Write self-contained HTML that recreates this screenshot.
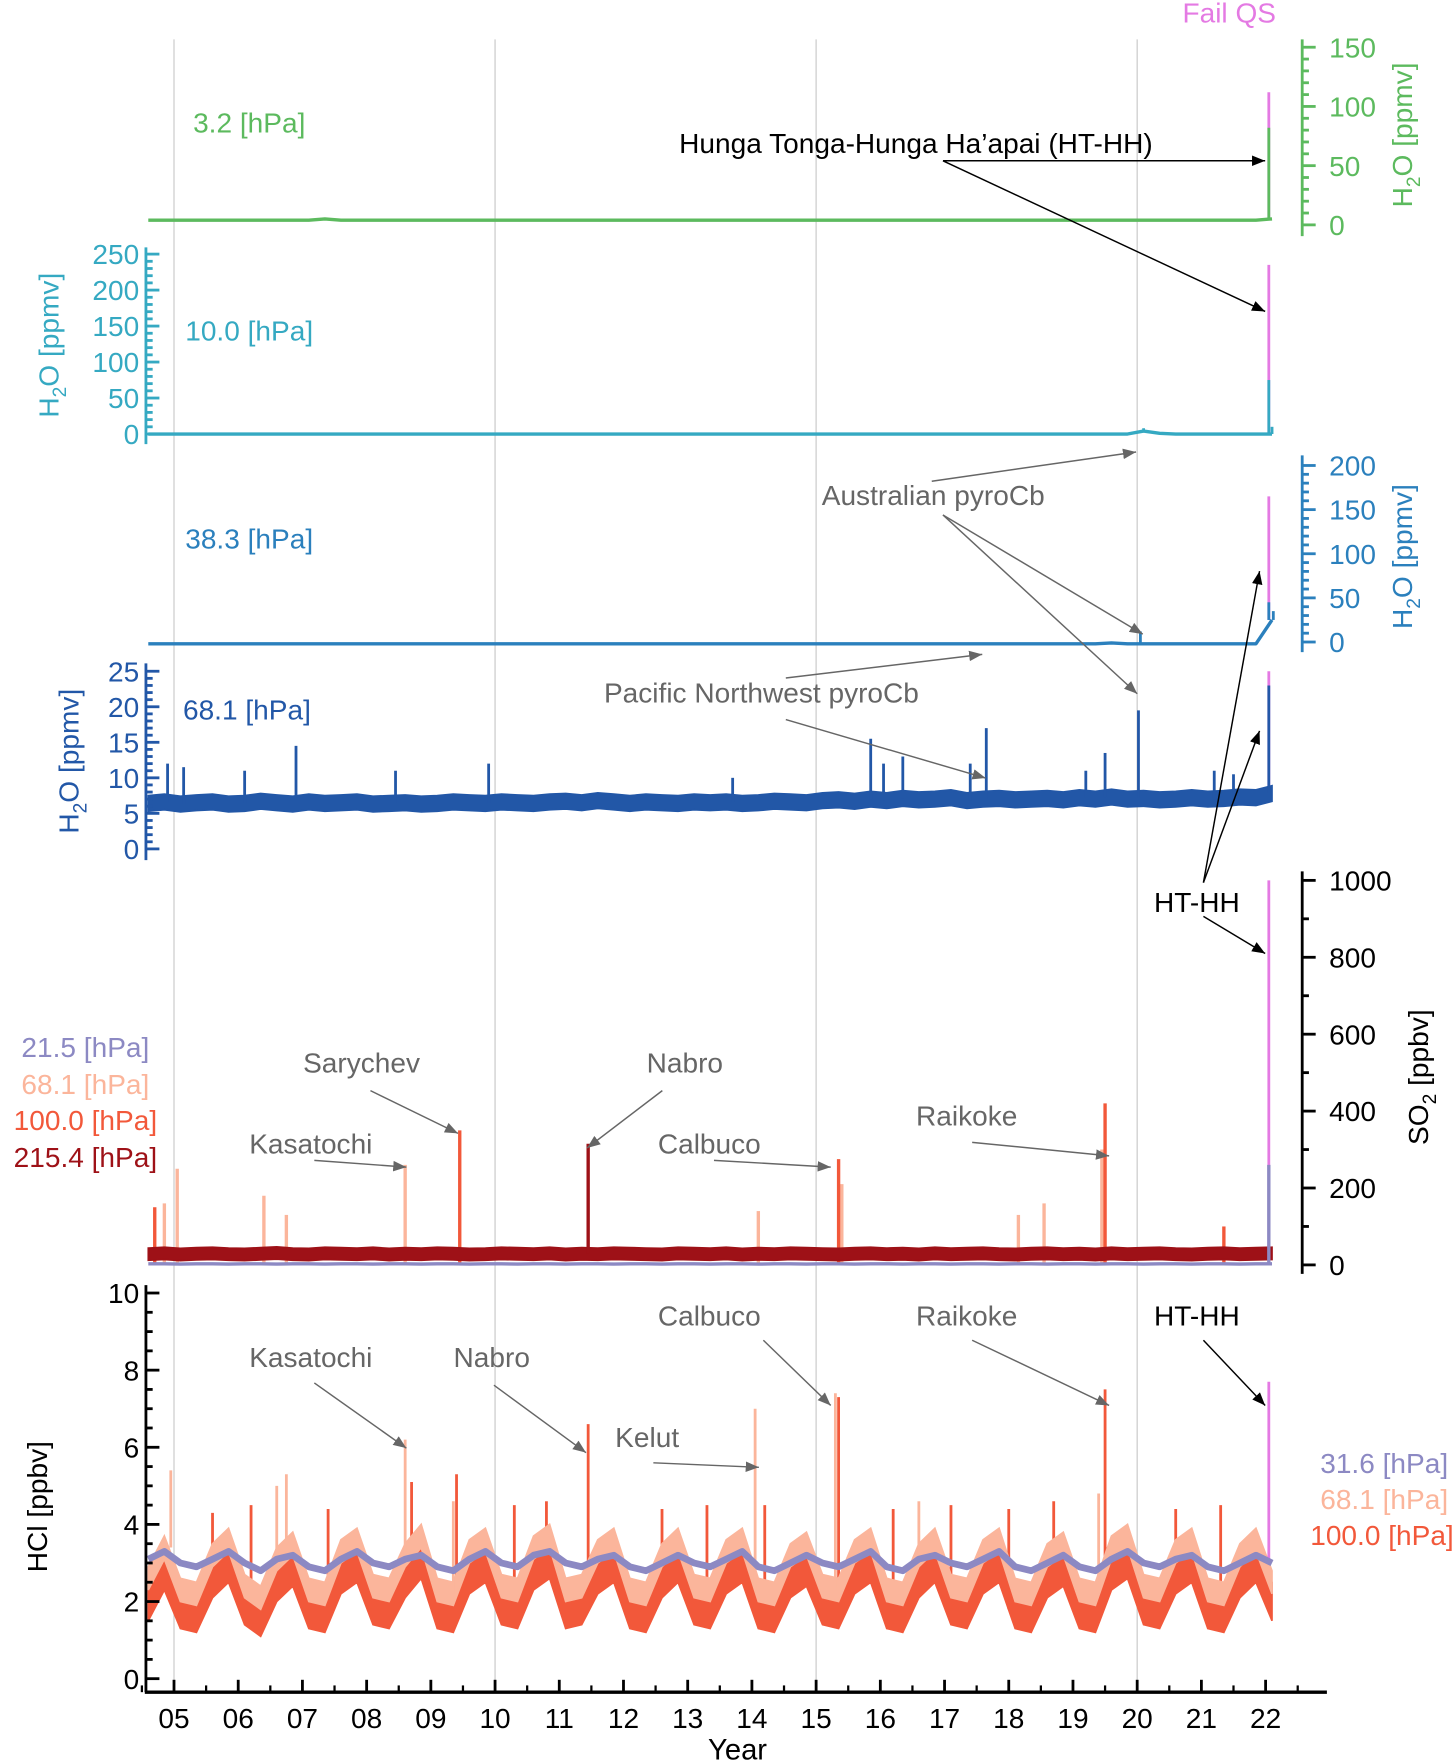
<!DOCTYPE html>
<html><head><meta charset="utf-8"><style>
html,body{margin:0;padding:0;background:#fff}
svg{display:block;font-family:"Liberation Sans",Arial,sans-serif}
</style></head><body>
<svg id="c" width="1456" height="1763" viewBox="0 0 1297 1568" preserveAspectRatio="none" xmlns="http://www.w3.org/2000/svg">
<defs>
<marker id="ak" viewBox="0 0 10 10" refX="10" refY="5" markerWidth="9" markerHeight="9" orient="auto-start-reverse"><path d="M0,1 L10,5 L0,9 z" fill="#000"/></marker>
<marker id="ag" viewBox="0 0 10 10" refX="10" refY="5" markerWidth="9" markerHeight="9" orient="auto-start-reverse"><path d="M0,1 L10,5 L0,9 z" fill="#666"/></marker>
</defs>
</svg>
<script>
// ===== data (t = 2004.6 + 0.25*i) =====
const T0 = 2004.6, DT = 0.25;
const yearTicks = [5,6,7,8,9,10,11,12,13,14,15,16,17,18,19,20,21,22];
const gridYears = [2005,2010,2015,2020];
const h2o32 = [4,4,4,4,4,4,4,4,4,4,4,5,4,4,4,4,4,4,4,4,4,4,4,4,4,4,4,4,4,4,4,4,4,4,4,4,4,4,4,4,4,4,4,4,4,4,4,4,4,4,4,4,4,4,4,4,4,4,4,4,4,4,4,4,4,4,4,4,4,4,5];
const h2o32Spikes = [[2022.05,82,0],[2022.05,112,1]];
const h2o10 = [0,0,0,0,0,0,0,0,0,0,0,0,0,0,0,0,0,0,0,0,0,0,0,0,0,0,0,0,0,0,0,0,0,0,0,0,0,0,0,0,0,0,0,0,0,0,0,0,0,0,0,0,0,0,0,0,0,0,0,0,0,0,4,1,0,0,0,0,0,0,0];
const h2o10Spikes = [[2020.1,8,0],[2022.05,75,0],[2022.1,10,0],[2022.05,235,1]];
const h2o38 = [-2,-2,-2,-2,-2,-2,-2,-2,-2,-2,-2,-2,-2,-2,-2,-2,-2,-2,-2,-2,-2,-2,-2,-2,-2,-2,-2,-2,-2,-2,-2,-2,-2,-2,-2,-2,-2,-2,-2,-2,-2,-2,-2,-2,-2,-2,-2,-2,-2,-2,-2,-2,-2,-2,-2,-2,-2,-2,-2,-2,-1,-2,-2,-2,-2,-2,-2,-2,-2,-2,25];
const h2o38Spikes = [[2020.05,12,0],[2022.05,45,0],[2022.12,35,0],[2022.05,165,1]];
const h2o68 = [6.4,6.6,6.3,6.5,6.6,6.3,6.4,6.7,6.5,6.3,6.6,6.4,6.5,6.6,6.3,6.4,6.5,6.3,6.4,6.6,6.5,6.4,6.6,6.5,6.4,6.6,6.7,6.5,6.8,6.6,6.4,6.6,6.5,6.4,6.6,6.5,6.6,6.4,6.5,6.7,6.6,6.5,6.8,6.9,6.7,7.0,6.8,7.1,6.9,7.0,7.2,6.8,7.0,7.1,6.9,7.0,7.1,6.9,7.2,7.0,7.3,7.0,7.1,6.9,7.0,7.2,7.0,7.1,7.3,7.2,7.8];
const h2o68Spikes = [[2004.9,12],[2005.15,11.5],[2006.1,11],[2006.9,14.5],[2008.45,11],[2009.9,12],[2013.7,10],[2015.85,15.5],[2016.05,12],[2016.35,13],[2017.4,12],[2017.65,17],[2019.2,11],[2019.5,13.5],[2020.02,19.5],[2021.2,11],[2021.5,10.5],[2022.05,23]];
const h2o68Fail = [[2022.05,25]];
const so2Dark = [28,30,27,29,30,28,27,29,31,28,27,30,29,28,30,27,29,28,30,29,27,28,30,29,28,30,27,29,28,30,29,28,27,30,29,28,30,27,29,28,30,29,28,27,29,30,28,29,27,30,28,29,30,28,27,29,30,28,29,27,30,28,29,30,28,27,29,30,28,29,30];
const so2Purple = [3,3,2,3,3,2,3,3,2,3,3,2,3,3,2,3,3,2,3,3,2,3,3,2,3,3,2,3,3,2,3,3,2,3,3,2,3,3,2,3,3,2,3,3,2,3,3,2,3,3,2,3,3,2,3,3,2,3,3,2,3,3,2,3,3,2,3,3,2,3,3];
const so2SalmonSpikes = [[2004.85,160],[2005.05,250],[2006.4,180],[2006.75,130],[2008.6,260],[2014.1,140],[2015.4,210],[2018.15,130],[2018.55,160],[2019.45,300]];
const so2RedSpikes = [[2004.7,150],[2009.45,350],[2015.35,275],[2019.5,420],[2021.35,100]];
const so2DarkSpikes = [[2011.45,315]];
const so2Fail = [[2022.05,1000]];
const so2PurpleSpikes = [[2022.05,260]];
const hclRed = [2.0,2.8,1.8,1.7,2.6,3.0,1.9,1.6,2.5,2.9,1.8,1.7,2.7,3.0,1.9,1.8,2.6,3.1,1.8,1.7,2.7,3.0,1.9,1.8,2.8,3.1,1.8,1.9,2.7,3.0,1.8,1.7,2.6,3.0,1.9,1.8,2.7,3.0,1.8,1.7,2.6,2.9,1.9,1.8,2.7,3.0,1.8,1.7,2.6,3.0,1.9,1.8,2.7,3.0,1.8,1.7,2.6,2.9,1.8,1.7,2.8,3.1,1.9,1.8,2.7,3.0,1.8,1.7,2.6,3.0,2.0];
const hclSalmon = [2.6,3.4,2.3,2.2,3.2,3.6,2.4,2.1,3.1,3.5,2.3,2.2,3.3,3.6,2.4,2.3,3.2,3.7,2.3,2.2,3.3,3.6,2.4,2.3,3.4,3.7,2.3,2.4,3.3,3.6,2.3,2.2,3.2,3.6,2.4,2.3,3.3,3.6,2.3,2.2,3.2,3.5,2.4,2.3,3.3,3.6,2.3,2.2,3.2,3.6,2.4,2.3,3.3,3.6,2.3,2.2,3.2,3.5,2.3,2.2,3.4,3.7,2.4,2.3,3.3,3.6,2.3,2.2,3.2,3.6,2.5];
const hclPurple = [3.1,3.3,3.0,2.9,3.1,3.3,3.0,2.8,3.1,3.2,2.9,2.8,3.1,3.3,3.0,2.9,3.1,3.2,2.9,2.8,3.1,3.3,3.0,2.9,3.2,3.3,3.0,2.9,3.1,3.2,2.9,2.8,3.0,3.2,3.0,2.9,3.1,3.3,2.9,2.8,3.0,3.2,3.0,2.9,3.1,3.3,2.9,2.8,3.1,3.2,3.0,2.9,3.1,3.3,2.9,2.8,3.0,3.2,2.9,2.8,3.1,3.3,3.0,2.9,3.1,3.2,2.9,2.8,3.0,3.2,3.0];
const hclSalmonSpikes = [[2004.95,5.4],[2006.6,5.0],[2006.75,5.3],[2008.6,6.2],[2009.35,4.6],[2014.05,7.0],[2015.3,7.4],[2016.6,4.6],[2019.4,4.8]];
const hclRedSpikes = [[2005.6,4.3],[2006.2,4.5],[2007.4,4.4],[2008.7,5.1],[2009.4,5.3],[2010.3,4.5],[2010.8,4.6],[2011.45,6.6],[2012.6,4.4],[2013.3,4.5],[2014.2,4.5],[2015.35,7.3],[2016.2,4.4],[2017.1,4.5],[2018.0,4.4],[2018.7,4.6],[2019.5,7.5],[2020.6,4.4],[2021.3,4.5]];
const hclFail = [[2022.05,7.7]];

// ===== helpers =====
const svg = document.getElementById('c');
const NS = 'http://www.w3.org/2000/svg';
function X(y){ return 155 + (y-2005)*57.2; }
function lin(v0,p0,v1,p1){ return v => p0 + (v-v0)*(p1-p0)/(v1-v0); }
function tOf(i){ return T0 + DT*i; }
function mk(tag, attrs, parent){
  const e = document.createElementNS(NS, tag);
  for (const k in attrs) e.setAttribute(k, attrs[k]);
  (parent||svg).appendChild(e); return e;
}
function txt(x,y,s,size,color,anchor,name){
  const e = mk('text',{x:x,y:y,'font-size':size,fill:color,'text-anchor':anchor||'start'});
  e.textContent = s;
  
  
  return e;
}
function line(vals, sc, color, w, name){
  const pts = vals.map((v,i)=>X(tOf(i)).toFixed(1)+','+sc(v).toFixed(1)).join(' ');
  const e = mk('polyline',{points:pts,fill:'none',stroke:color,'stroke-width':w,'stroke-linejoin':'round'});
  
  
}
function band(vals, hw, sc, color, name){
  const up = vals.map((v,i)=>X(tOf(i)).toFixed(1)+','+sc(v+hw).toFixed(1));
  const dn = vals.map((v,i)=>X(tOf(i)).toFixed(1)+','+sc(v-hw).toFixed(1)).reverse();
  const e = mk('polygon',{points:up.concat(dn).join(' '),fill:color,stroke:color,'stroke-width':1.5});
  
  
}
function baseAt(vals, t){ let i = Math.round((t-T0)/DT); i=Math.max(0,Math.min(vals.length-1,i)); return vals[i]; }
function spikes(list, vals, sc, color, w, name){
  list.forEach(s=>{
    const e = mk('line',{x1:X(s[0]),x2:X(s[0]),y1:sc(baseAt(vals,s[0])),y2:sc(s[1]),stroke:color,'stroke-width':w});
    
    
  });
}
function axis(x, y0, y1, sc, vmin, vmax, major, minor, color, labelSide, name){
  const g = mk('g',{});
  
  
  mk('line',{x1:x,x2:x,y1:y0,y2:y1,stroke:color,'stroke-width':2.5},g);
  for (let v=vmin; v<=vmax+1e-9; v+=minor){
    const isMaj = Math.abs(v/major - Math.round(v/major))<1e-6;
    const y = sc(v);
    mk('line',{x1:x,x2:x+(isMaj?12:6),y1:y,y2:y,stroke:color,'stroke-width':2.5},g);
    if (isMaj){
      const t = mk('text',{x: labelSide==='left'? x-6 : x+24, y:y+9, 'font-size':25, fill:color, 'text-anchor': labelSide==='left'?'end':'start'},g);
      t.textContent = String(Math.round(v));
    }
  }
}
function ytitle(x, cy, main, sub, tail, color, name){
  const e = mk('text',{x:0,y:0,'font-size':25,fill:color,'text-anchor':'middle',transform:`translate(${x},${cy}) rotate(-90)`});
  
  
  const a = mk('tspan',{},e); a.textContent = main;
  if (sub){ const b = mk('tspan',{'font-size':17,dy:7},e); b.textContent = sub; const c = mk('tspan',{dy:-7},e); c.textContent = tail; }
  else { a.textContent = main + tail; }
}
function arrow(x1,y1,x2,y2,black,name){
  const e = mk('line',{x1:x1,y1:y1,x2:x2,y2:y2,stroke:black?'#000':'#666','stroke-width':1.3,'marker-end':black?'url(#ak)':'url(#ag)'});
  
  
}

// ===== grid =====
gridYears.forEach(y=>{
  const e = mk('line',{x1:X(y),x2:X(y),y1:35,y2:1505,stroke:'#d0d0d0','stroke-width':1.2});
  
  
});

// ===== scales =====
const s32 = lin(0,200,150,42), s10 = lin(0,386,250,226), s38 = lin(0,571,200,414), s68 = lin(0,755,25,597);
const sSO2 = lin(0,1125,1000,783), sHCl = lin(0,1493,10,1150);
const GREEN='#5cba5e', TEAL='#35a9c2', BLUE='#2b80bd', DBLUE='#2257a7', PURP='#8c89c3', SALM='#fbb59b', RED='#f2583a', DRED='#9e1117', MAG='#e47ae3';

// panel 1
spikes(h2o32Spikes.filter(s=>s[2]===1), h2o32, s32, MAG, 2.5, 'h2o-3hpa-fail-spike');
spikes(h2o32Spikes.filter(s=>s[2]===0), h2o32, s32, GREEN, 2.5, 'h2o-3hpa-spike');
line(h2o32, s32, GREEN, 3, 'h2o-3hpa-line');
axis(1160, 35, 210, s32, 0, 150, 50, 10, GREEN, 'right', 'h2o-3hpa-axis');
ytitle(1258, 120, 'H', '2', 'O [ppmv]', GREEN, 'h2o-3hpa-axis-title');
txt(172,118,'3.2 [hPa]',25,GREEN,'start','h2o-3hpa-label');

// panel 2
spikes(h2o10Spikes.filter(s=>s[2]===1), h2o10, s10, MAG, 2.5, 'h2o-10hpa-fail-spike');
spikes(h2o10Spikes.filter(s=>s[2]===0), h2o10, s10, TEAL, 2.5, 'h2o-10hpa-spike');
line(h2o10, s10, TEAL, 3, 'h2o-10hpa-line');
axis(130, 220, 395, s10, 0, 250, 50, 10, TEAL, 'left', 'h2o-10hpa-axis');
ytitle(52, 307, 'H', '2', 'O [ppmv]', TEAL, 'h2o-10hpa-axis-title');
txt(165,303,'10.0 [hPa]',25,TEAL,'start','h2o-10hpa-label');

// panel 3
spikes(h2o38Spikes.filter(s=>s[2]===1), h2o38, s38, MAG, 2.5, 'h2o-38hpa-fail-spike');
spikes(h2o38Spikes.filter(s=>s[2]===0), h2o38, s38, BLUE, 2.5, 'h2o-38hpa-spike');
line(h2o38, s38, BLUE, 3, 'h2o-38hpa-line');
axis(1160, 405, 580, s38, 0, 200, 50, 10, BLUE, 'right', 'h2o-38hpa-axis');
ytitle(1258, 495, 'H', '2', 'O [ppmv]', BLUE, 'h2o-38hpa-axis-title');
txt(165,488,'38.3 [hPa]',25,BLUE,'start','h2o-38hpa-label');

// panel 4
spikes(h2o68Fail, h2o68, s68, MAG, 2.5, 'h2o-68hpa-fail-spike');
band(h2o68, 1.1, s68, DBLUE, 'h2o-68hpa-band');
spikes(h2o68Spikes, h2o68, s68, DBLUE, 2.5, 'h2o-68hpa-spike');
axis(130, 590, 765, s68, 0, 25, 5, 1, DBLUE, 'left', 'h2o-68hpa-axis');
ytitle(70, 677, 'H', '2', 'O [ppmv]', DBLUE, 'h2o-68hpa-axis-title');
txt(163,640,'68.1 [hPa]',25,DBLUE,'start','h2o-68hpa-label');

// panel 5 SO2
spikes(so2Fail, so2Purple, sSO2, MAG, 2.5, 'so2-fail-spike');
spikes(so2SalmonSpikes, so2Purple, sSO2, SALM, 3, 'so2-68hpa-spike');
spikes(so2RedSpikes, so2Purple, sSO2, RED, 3, 'so2-100hpa-spike');
band(so2Dark, 16, sSO2, DRED, 'so2-215hpa-band');
spikes(so2DarkSpikes, so2Dark, sSO2, DRED, 3, 'so2-215hpa-spike');
spikes(so2PurpleSpikes, so2Purple, sSO2, PURP, 3, 'so2-21hpa-spike');
line(so2Purple, sSO2, PURP, 3, 'so2-21hpa-line');
axis(1160, 775, 1133, sSO2, 0, 1000, 200, 100, '#000', 'right', 'so2-axis');
ytitle(1272, 958, 'SO', '2', ' [ppbv]', '#000', 'so2-axis-title');
txt(133,940,'21.5 [hPa]',25,PURP,'end','legend-so2-21hpa');
txt(133,973,'68.1 [hPa]',25,SALM,'end','legend-so2-68hpa');
txt(140,1005,'100.0 [hPa]',25,RED,'end','legend-so2-100hpa');
txt(140,1038,'215.4 [hPa]',25,DRED,'end','legend-so2-215hpa');

// panel 6 HCl
band(hclRed, 0.5, sHCl, RED, 'hcl-100hpa-band');
spikes(hclRedSpikes, hclRed, sHCl, RED, 2.5, 'hcl-100hpa-spike');
band(hclSalmon, 0.3, sHCl, SALM, 'hcl-68hpa-band');
spikes(hclSalmonSpikes, hclSalmon, sHCl, SALM, 2.5, 'hcl-68hpa-spike');
spikes(hclFail, hclPurple, sHCl, MAG, 2.5, 'hcl-fail-spike');
line(hclPurple, sHCl, PURP, 6, 'hcl-31hpa-line');
axis(130, 1143, 1505, sHCl, 0, 10, 2, 0.5, '#000', 'left', 'hcl-axis');
ytitle(42, 1340, 'HCl [ppbv]', null, '', '#000', 'hcl-axis-title');
txt(1290,1310,'31.6 [hPa]',25,PURP,'end','legend-hcl-31hpa');
txt(1290,1342,'68.1 [hPa]',25,SALM,'end','legend-hcl-68hpa');
txt(1295,1374,'100.0 [hPa]',25,RED,'end','legend-hcl-100hpa');

// x axis
(function(){
  const g = mk('g',{});
  
  
  mk('line',{x1:129,x2:1182,y1:1505,y2:1505,stroke:'#000','stroke-width':3},g);
  yearTicks.forEach(t=>{
    const x = X(2000+t);
    mk('line',{x1:x,x2:x,y1:1505,y2:1494,stroke:'#000','stroke-width':2.5},g);
    mk('line',{x1:x+28.6,x2:x+28.6,y1:1505,y2:1499,stroke:'#000','stroke-width':2},g);
    const tt = mk('text',{x:x,y:1537,'font-size':25,'text-anchor':'middle',fill:'#000'},g);
    tt.textContent = String(t).padStart(2,'0');
  });
  mk('line',{x1:X(2004.5),x2:X(2004.5),y1:1505,y2:1499,stroke:'#000','stroke-width':2},g);
})();
txt(657,1565,'Year',26,'#000','middle','x-axis-title');

// annotations
txt(1095,20,'Fail QS',25,MAG,'middle','fail-qs-label');
txt(605,136,'Hunga Tonga-Hunga Ha\u2019apai (HT-HH)',25,'#000','start','annotation-hthh');
arrow(840,143,1127,143,true,'arrow-hthh-3hpa');
arrow(840,143,1127,277,true,'arrow-hthh-10hpa');
txt(732,449,'Australian pyroCb',25,'#666','start','annotation-australian-pyrocb');
arrow(830,428,1012,402,false,'arrow-aus-10hpa');
arrow(840,458,1018,564,false,'arrow-aus-38hpa');
arrow(840,458,1013,617,false,'arrow-aus-68hpa');
txt(538,625,'Pacific Northwest pyroCb',25,'#666','start','annotation-pnw-pyrocb');
arrow(700,603,875,582,false,'arrow-pnw-38hpa');
arrow(700,640,878,692,false,'arrow-pnw-68hpa');
txt(1028,811,'HT-HH',25,'#000','start','annotation-hthh-so2');
arrow(1072,785,1122,508,true,'arrow-hthh-38hpa');
arrow(1072,785,1122,650,true,'arrow-hthh-68hpa');
arrow(1072,815,1127,848,true,'arrow-hthh-so2');
txt(270,954,'Sarychev',25,'#666','start','annotation-sarychev');
arrow(330,970,408,1008,false,'arrow-sarychev');
txt(222,1026,'Kasatochi',25,'#666','start','annotation-kasatochi-so2');
arrow(280,1032,362,1038,false,'arrow-kasatochi-so2');
txt(576,954,'Nabro',25,'#666','start','annotation-nabro-so2');
arrow(590,970,523,1021,false,'arrow-nabro-so2');
txt(586,1026,'Calbuco',25,'#666','start','annotation-calbuco-so2');
arrow(636,1032,740,1038,false,'arrow-calbuco-so2');
txt(816,1001,'Raikoke',25,'#666','start','annotation-raikoke-so2');
arrow(866,1016,988,1028,false,'arrow-raikoke-so2');
txt(222,1216,'Kasatochi',25,'#666','start','annotation-kasatochi-hcl');
arrow(280,1230,362,1288,false,'arrow-kasatochi-hcl');
txt(404,1216,'Nabro',25,'#666','start','annotation-nabro-hcl');
arrow(440,1232,522,1292,false,'arrow-nabro-hcl');
txt(548,1287,'Kelut',25,'#666','start','annotation-kelut');
arrow(582,1301,676,1305,false,'arrow-kelut');
txt(586,1179,'Calbuco',25,'#666','start','annotation-calbuco-hcl');
arrow(680,1192,740,1250,false,'arrow-calbuco-hcl');
txt(816,1179,'Raikoke',25,'#666','start','annotation-raikoke-hcl');
arrow(866,1192,988,1250,false,'arrow-raikoke-hcl');
txt(1028,1179,'HT-HH',25,'#000','start','annotation-hthh-hcl');
arrow(1072,1192,1127,1250,true,'arrow-hthh-hcl');
</script>
</body></html>
